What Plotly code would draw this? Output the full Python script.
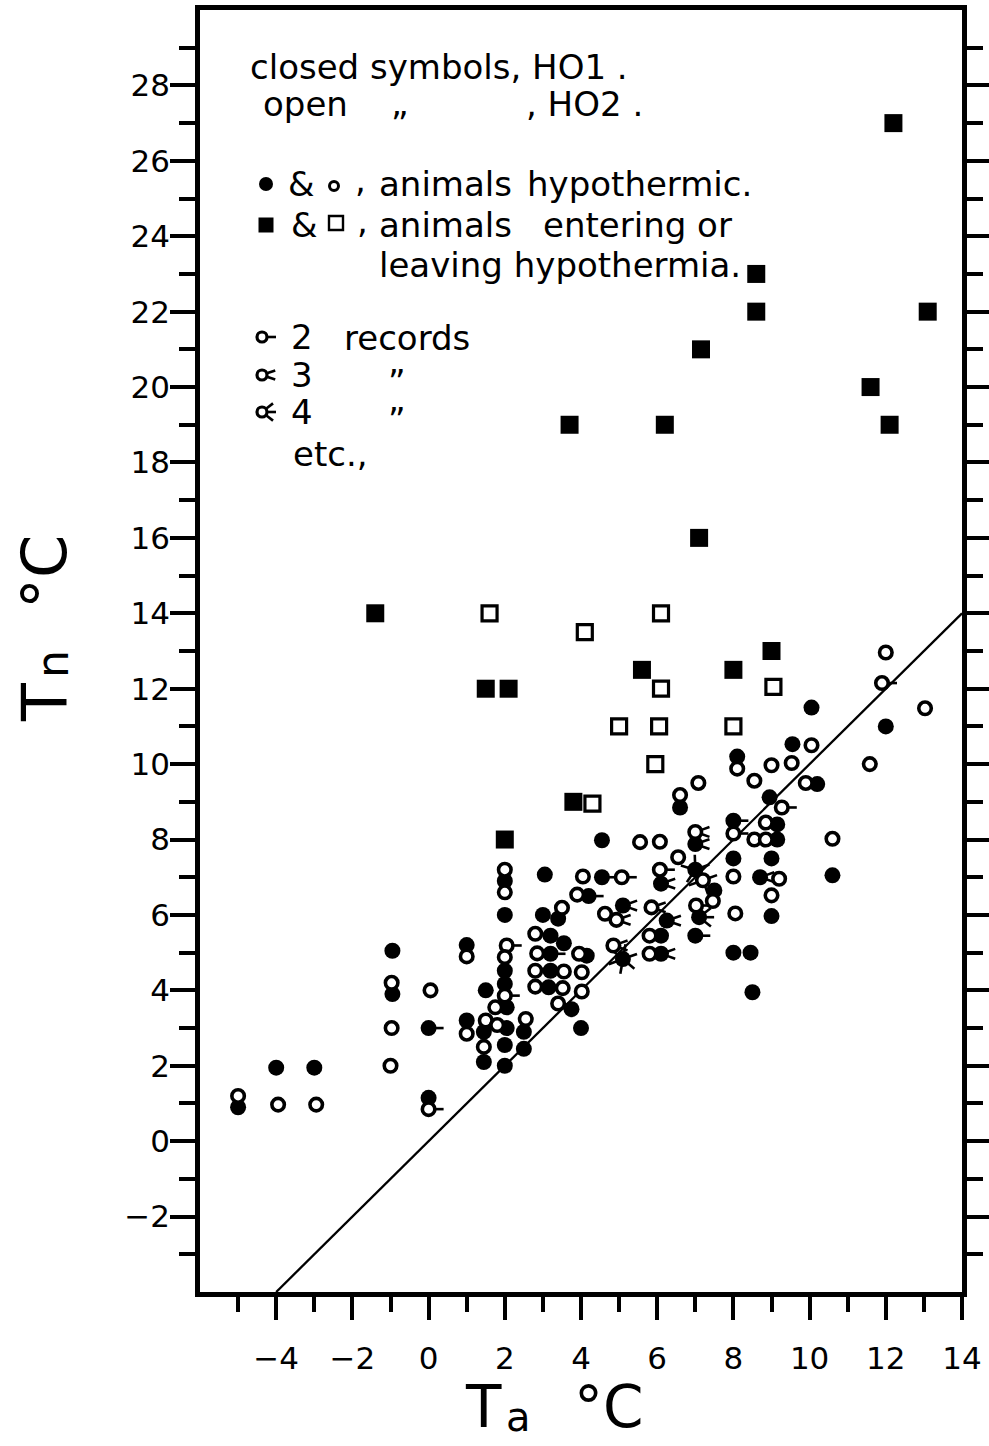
import numpy as np
import plotly.graph_objects as go

# ---------------------------------------------------------------
# Nest temperature (Tn) against ambient temperature (Ta), deg C
# ---------------------------------------------------------------

# HO1, animals hypothermic (closed circles); rec = number of records
ho1_ta = [-5.0, -4.0, -3.0, -0.95, -0.95, 0.0, 0.0, 1.0, 1.5, 1.0, 1.45, 1.45,
          2.0, 3.05, 4.55, 4.55, 7.0, 8.0, 2.0, 3.0, 3.4, 4.2, 5.1, 6.1,
          7.0, 7.5, 7.1, 6.25, 6.1, 7.0, 6.1, 5.1, 3.2, 3.55, 2.0, 2.0,
          2.05, 3.2, 4.15, 3.2, 3.15, 3.75, 4.0, 2.05, 2.0, 2.5, 2.5, 2.0,
          6.6, 8.0, 8.0, 8.45, 8.5, 9.0, 9.0, 8.7, 8.95, 9.15, 9.15, 8.1,
          9.55, 10.05, 10.2, 12.0, 10.6]
ho1_tn = [0.9, 1.95, 1.95, 5.05, 3.9, 3.0, 1.15, 5.2, 4.0, 3.2, 2.9, 2.1,
          6.9, 7.07, 7.98, 7.0, 7.88, 8.5, 6.0, 6.0, 5.9, 6.5, 6.25, 6.83,
          7.2, 6.65, 5.94, 5.85, 5.45, 5.45, 4.97, 4.83, 5.45, 5.25, 4.52, 4.17,
          3.55, 4.97, 4.92, 4.52, 4.08, 3.5, 3.0, 3.0, 2.55, 2.9, 2.45, 2.0,
          8.85, 7.5, 5.0, 5.0, 3.95, 5.97, 7.5, 7.0, 9.12, 8.4, 8.0, 10.2,
          10.53, 11.5, 9.47, 11.0, 7.05]
ho1_rec = [1, 1, 1, 1, 1, 2, 1, 1, 1, 1, 1, 1,
           1, 1, 1, 2, 3, 2, 1, 1, 1, 2, 3, 3,
           6, 1, 4, 3, 1, 2, 3, 7, 1, 1, 1, 1,
           1, 2, 1, 1, 1, 1, 1, 1, 1, 1, 1, 1,
           1, 1, 1, 1, 1, 1, 1, 3, 1, 1, 1, 1,
           1, 1, 1, 1, 1]

# HO2, animals hypothermic (open circles)
ho2_ta = [-5.0, -3.95, -2.95, -0.97, -0.97, -1.0, 0.05, 0.0, 1.0, 1.75, 1.0, 1.5,
          1.45, 1.8, 2.0, 2.0, 4.05, 5.55, 6.07, 7.0, 8.0, 5.07, 6.07, 6.55,
          7.2, 7.46, 8.0, 8.05, 3.5, 3.9, 4.63, 4.93, 5.85, 5.8, 7.02, 5.8,
          4.85, 2.8, 2.05, 2.0, 2.0, 2.85, 3.95, 2.8, 3.55, 4.02, 2.8, 3.52,
          4.02, 3.4, 2.55, 6.6, 7.08, 8.1, 8.55, 9.0, 9.53, 10.05, 9.9, 9.27,
          8.85, 8.55, 8.85, 9.2, 9.0, 10.6, 11.58, 12.0, 11.9, 13.03]
ho2_tn = [1.2, 0.97, 0.97, 4.2, 3.0, 2.0, 4.0, 0.85, 4.9, 3.55, 2.85, 3.2,
          2.5, 3.08, 7.2, 6.6, 7.02, 7.93, 7.94, 8.2, 8.16, 7.0, 7.2, 7.53,
          6.92, 6.37, 7.02, 6.04, 6.19, 6.54, 6.03, 5.87, 6.2, 5.45, 6.25, 4.97,
          5.19, 5.5, 5.19, 4.88, 3.86, 4.98, 4.97, 4.52, 4.5, 4.48, 4.1, 4.06,
          3.97, 3.65, 3.24, 9.18, 9.5, 9.88, 9.56, 9.97, 10.03, 10.5, 9.5, 8.85,
          8.45, 8.0, 8.0, 6.96, 6.52, 8.02, 10.0, 12.96, 12.15, 11.48]
ho2_rec = [1, 1, 1, 1, 1, 1, 1, 2, 1, 2, 1, 1,
           1, 1, 1, 1, 1, 1, 1, 3, 2, 2, 2, 1,
           5, 1, 1, 1, 1, 1, 1, 3, 3, 1, 2, 2,
           3, 1, 2, 1, 2, 3, 2, 1, 1, 1, 3, 1,
           1, 1, 1, 1, 1, 1, 1, 1, 1, 1, 1, 2,
           1, 1, 2, 1, 1, 1, 1, 1, 2, 1]

# HO1, animals entering or leaving hypothermia (closed squares)
ho1_tr_ta = [12.2, 8.6, 8.6, 13.1, 7.15, 11.6, 12.1, 3.7, 6.2, 7.1, -1.4,
             5.6, 8.0, 9.0, 1.5, 2.1, 3.8, 2.0]
ho1_tr_tn = [27.0, 23.0, 22.0, 22.0, 21.0, 20.0, 19.0, 19.0, 19.0, 16.0, 14.0,
             12.5, 12.5, 13.0, 12.0, 12.0, 9.0, 8.0]

# HO2, animals entering or leaving hypothermia (open squares)
ho2_tr_ta = [1.6, 4.1, 6.1, 6.1, 9.05, 5.0, 6.05, 8.0, 5.95, 4.3]
ho2_tr_tn = [14.0, 13.5, 14.0, 12.0, 12.05, 11.0, 11.0, 11.0, 10.0, 8.95]

# Tn = Ta isotherm
iso_ta = [-4, 14]
iso_tn = [-4, 14]

# axis ticks
x_major = [-4, -2, 0, 2, 4, 6, 8, 10, 12, 14]
x_minor = [-5, -3, -1, 1, 3, 5, 7, 9, 11, 13]
y_major = list(range(-2, 29, 2))
y_minor = list(range(-3, 30, 2))

# key entries for the multiple-record symbols
key_rec = [2, 3, 4]
key_rec_text = ["2", "3", "4"]

# ---------------------------------------------------------------
W, H = 989, 1446
MARGIN = dict(l=200, r=27, t=10, b=154)
X_RANGE = [-6, 14]
Y_RANGE = [-4, 30]
PW = W - MARGIN["l"] - MARGIN["r"]
PH = H - MARGIN["t"] - MARGIN["b"]
UX = PW / (X_RANGE[1] - X_RANGE[0])   # px per degree, x
UY = PH / (Y_RANGE[1] - Y_RANGE[0])   # px per degree, y

FONT = "DejaVu Sans"
INK = "black"


def tick_text(v):
    return str(v).replace("-", "\u2212")


def spike_paths(xs, ys, recs, ux, uy, r0=6.5, r1=15.0, flip_y=False):
    """Short ticks radiating from a symbol, one per extra record."""
    px, py = [], []
    sy = -1 if flip_y else 1
    for x, y, n in zip(xs, ys, recs):
        k = n - 1
        if k <= 0:
            continue
        if k <= 3:
            angs = (np.arange(k) - (k - 1) / 2) * 38.0
        else:
            angs = np.arange(k) * 360.0 / k + 20.0
        for a in np.radians(angs):
            c, s = np.cos(a), np.sin(a)
            px += [x + r0 * c / ux, x + r1 * c / ux, None]
            py += [y + sy * r0 * s / uy, y + sy * r1 * s / uy, None]
    return px, py


fig = go.Figure()

fig.add_trace(go.Scatter(x=iso_ta, y=iso_tn, mode="lines",
                         line=dict(color=INK, width=2.3), hoverinfo="skip"))

sx1, sy1 = spike_paths(ho1_ta, ho1_tn, ho1_rec, UX, UY)
sx2, sy2 = spike_paths(ho2_ta, ho2_tn, ho2_rec, UX, UY)
fig.add_trace(go.Scatter(x=sx1 + sx2, y=sy1 + sy2, mode="lines",
                         line=dict(color=INK, width=2.6), hoverinfo="skip"))

fig.add_trace(go.Scatter(x=ho1_ta, y=ho1_tn, mode="markers", name="HO1",
                         marker=dict(symbol="circle", size=16, color=INK,
                                     line=dict(width=0))))
fig.add_trace(go.Scatter(x=ho2_ta, y=ho2_tn, mode="markers", name="HO2",
                         marker=dict(symbol="circle", size=12.5, color="white",
                                     line=dict(width=3.6, color=INK))))
fig.add_trace(go.Scatter(x=ho1_tr_ta, y=ho1_tr_tn, mode="markers",
                         marker=dict(symbol="square", size=18, color=INK,
                                     line=dict(width=0))))
fig.add_trace(go.Scatter(x=ho2_tr_ta, y=ho2_tr_tn, mode="markers",
                         marker=dict(symbol="square", size=15, color="white",
                                     line=dict(width=3.2, color=INK))))

# ---- key, drawn on a pixel-scaled overlay axis pair --------------
kx_dot, ky_row3, ky_row4 = 266, 184, 225
fig.add_trace(go.Scatter(x=[kx_dot], y=[ky_row3], xaxis="x2", yaxis="y2",
                         mode="markers", marker=dict(symbol="circle", size=14, color=INK)))
fig.add_trace(go.Scatter(x=[334], y=[ky_row3 + 2], xaxis="x2", yaxis="y2",
                         mode="markers",
                         marker=dict(symbol="circle", size=9, color="white",
                                     line=dict(width=3, color=INK))))
fig.add_trace(go.Scatter(x=[kx_dot], y=[ky_row4], xaxis="x2", yaxis="y2",
                         mode="markers", marker=dict(symbol="square", size=15, color=INK)))
fig.add_trace(go.Scatter(x=[336], y=[ky_row4 - 2], xaxis="x2", yaxis="y2",
                         mode="markers",
                         marker=dict(symbol="square", size=14, color="white",
                                     line=dict(width=2.4, color=INK))))

key_x = [262, 262, 262]
key_y = [337, 375, 412]
kx, ky = spike_paths(key_x, key_y, key_rec, 1.0, 1.0, r0=6, r1=14, flip_y=True)
fig.add_trace(go.Scatter(x=kx, y=ky, xaxis="x2", yaxis="y2", mode="lines",
                         line=dict(color=INK, width=2.6)))
fig.add_trace(go.Scatter(x=key_x, y=key_y, xaxis="x2", yaxis="y2", mode="markers",
                         marker=dict(symbol="circle", size=10, color="white",
                                     line=dict(width=3.2, color=INK))))


def px2paper(px, py):
    return (px - MARGIN["l"]) / PW, (H - MARGIN["b"] - py) / PH


def label(text, px, py, size=34, anchor="left", angle=0):
    xp, yp = px2paper(px, py)
    fig.add_annotation(text=text, x=xp, y=yp, xref="paper", yref="paper",
                       xanchor=anchor, yanchor="middle", showarrow=False,
                       textangle=angle, font=dict(family=FONT, size=size, color=INK))


label("closed symbols, HO1 .", 248, 67)
label("open", 261, 104)
label("\u201d", 400, 124, anchor="center")
label(", HO2 .", 524, 104)
label("&", 301, 184, anchor="center")
label(",", 360, 180, anchor="center")
label("animals", 377, 184)
label("hypothermic.", 525, 184)
label("&", 304, 225, anchor="center")
label(",", 362, 221, anchor="center")
label("animals", 377, 225)
label("entering or", 541, 225)
label("leaving hypothermia.", 377, 265)
for t, yy in zip(key_rec_text, key_y):
    label(t, 289, yy)
label("records", 342, 338)
label("\u201d", 397, 382, anchor="center")
label("\u201d", 397, 420, anchor="center")
label("etc.,", 291, 454)

# axis titles
label("T", 44, 702, size=62, anchor="center", angle=-90)
label("n", 52, 664, size=44, anchor="center", angle=-90)
label("°C", 44, 572, size=62, anchor="center", angle=-90)
label("T", 483, 1407, size=58, anchor="center")
label("a", 518, 1417, size=40, anchor="center")
label("°C", 609, 1407, size=58, anchor="center")

axis_common = dict(showgrid=False, zeroline=False, showline=True, linewidth=4.5,
                   linecolor=INK, ticks="outside", tickcolor=INK, tickwidth=3.5,
                   automargin=False,
                   tickfont=dict(family=FONT, size=31, color=INK))

fig.update_layout(
    width=W, height=H, margin=dict(MARGIN, autoexpand=False), showlegend=False,
    paper_bgcolor="white", plot_bgcolor="white",
    xaxis=dict(range=X_RANGE, tickmode="array", tickvals=x_major,
               ticktext=[tick_text(v) for v in x_major],
               ticklen=23, mirror=True, ticklabelstandoff=12,
               minor=dict(tickmode="array", tickvals=x_minor, ticks="outside",
                          ticklen=15, tickwidth=3.5, tickcolor=INK),
               **axis_common),
    yaxis=dict(range=Y_RANGE, tickmode="array", tickvals=y_major,
               ticktext=[tick_text(v) for v in y_major],
               ticklen=25, mirror="ticks", ticklabelstandoff=-6,
               minor=dict(tickmode="array", tickvals=y_minor, ticks="outside",
                          ticklen=16, tickwidth=3.5, tickcolor=INK),
               **axis_common),
    xaxis2=dict(overlaying="x", range=[MARGIN["l"], W - MARGIN["r"]], visible=False),
    yaxis2=dict(overlaying="y", range=[H - MARGIN["b"], MARGIN["t"]], visible=False),
)

fig.write_html("out.html")
